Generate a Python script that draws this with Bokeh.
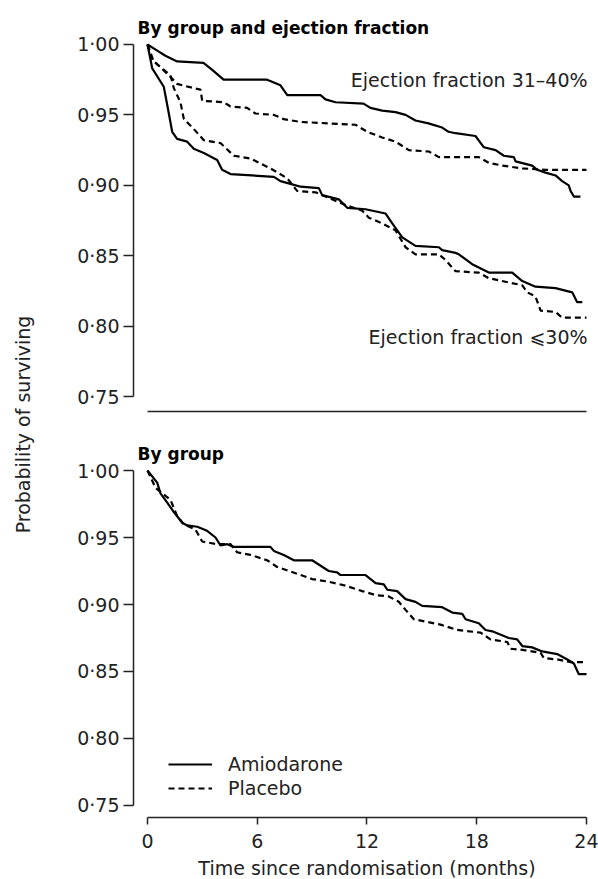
import math
from bokeh.plotting import figure
from bokeh.layouts import row, column
from bokeh.models import (FixedTicker, Label, Legend, LegendItem, Title, Range1d)
from bokeh.embed import file_html
from bokeh.resources import INLINE

# ---------------- data ----------------
y_ticks = [0.75, 0.80, 0.85, 0.90, 0.95, 1.00]
y_tick_labels = ["0·75", "0·80", "0·85", "0·90", "0·95", "1·00"]
x_ticks = [0, 6, 12, 18, 24]
x_tick_labels = ["0", "6", "12", "18", "24"]

# Top panel: by group and ejection fraction (months, survival)
amio_ef3140_t = [0, 0.49, 0.98, 1.62, 3.06, 3.54, 4.16, 6.54, 7.27, 7.64, 9.46, 9.73, 10.28, 11.81,
                 12.19, 12.83, 13.56, 14.11, 14.65, 15.36, 16.11, 16.46, 16.84, 17.93, 18.39, 19.03,
                 19.48, 20.03, 20.12, 21.03, 21.31, 21.76, 22.31, 22.67, 23.03, 23.13, 23.31, 23.67]
amio_ef3140_s = [1.0, 0.996, 0.992, 0.988, 0.987, 0.982, 0.975, 0.975, 0.971, 0.964, 0.964, 0.961, 0.959, 0.958,
                 0.955, 0.953, 0.952, 0.950, 0.946, 0.944, 0.941, 0.938, 0.937, 0.935, 0.927, 0.925,
                 0.921, 0.920, 0.917, 0.914, 0.911, 0.909, 0.907, 0.903, 0.900, 0.896, 0.892, 0.892]

plac_ef3140_t = [0, 0.26, 0.44, 1.26, 1.62, 2.53, 2.90, 2.99, 4.17, 4.54, 5.45, 5.90, 6.91, 7.45, 8.37,
                 11.37, 12.01, 12.83, 13.56, 14.29, 15.38, 15.93, 18.11, 18.66, 19.39, 20.49, 21.76, 24.0]
plac_ef3140_s = [1.0, 0.989, 0.987, 0.977, 0.972, 0.969, 0.968, 0.960, 0.959, 0.956, 0.955, 0.951, 0.950, 0.947, 0.945,
                 0.943, 0.938, 0.934, 0.931, 0.925, 0.924, 0.920, 0.920, 0.916, 0.914, 0.912, 0.911, 0.911]

amio_ef30_t = [0, 0.26, 0.89, 1.08, 1.35, 1.62, 2.17, 2.53, 3.08, 3.81, 4.08, 4.54, 6.91, 7.27, 7.82, 8.37,
               9.37, 9.55, 10.46, 10.92, 11.92, 13.01, 13.38, 13.93, 14.65, 15.93, 16.11, 16.84, 17.02,
               17.75, 18.66, 19.94, 20.49, 21.21, 22.31, 23.22, 23.49, 23.77]
amio_ef30_s = [1.0, 0.983, 0.970, 0.957, 0.938, 0.933, 0.931, 0.926, 0.923, 0.918, 0.911, 0.908, 0.906, 0.903, 0.901, 0.899,
               0.898, 0.893, 0.890, 0.884, 0.883, 0.880, 0.873, 0.863, 0.857, 0.856, 0.854, 0.852, 0.851,
               0.844, 0.838, 0.838, 0.832, 0.828, 0.827, 0.824, 0.817, 0.817]

plac_ef30_t = [0, 0.34, 1.26, 1.44, 1.80, 1.99, 2.53, 3.08, 3.99, 4.72, 5.63, 6.72, 7.64, 8.18, 9.19, 9.73,
               10.83, 11.74, 12.10, 12.83, 13.56, 14.11, 14.65, 15.93, 16.29, 16.84, 18.11, 18.66, 19.76,
               20.49, 20.76, 21.21, 21.49, 22.31, 22.67, 24.0]
plac_ef30_s = [1.0, 0.988, 0.978, 0.969, 0.959, 0.947, 0.940, 0.932, 0.930, 0.921, 0.919, 0.912, 0.905, 0.896, 0.895, 0.892,
               0.886, 0.882, 0.877, 0.873, 0.868, 0.856, 0.851, 0.851, 0.847, 0.839, 0.838, 0.834, 0.831,
               0.829, 0.824, 0.821, 0.811, 0.810, 0.806, 0.806]

# Bottom panel: by group
amio_t = [0, 0.53, 0.71, 1.08, 1.44, 1.90, 2.17, 2.72, 3.26, 3.72, 3.99, 4.36, 4.72, 6.72, 6.91, 7.45, 8.00,
          9.00, 9.91, 10.37, 10.55, 11.92, 12.47, 12.92, 13.11, 13.65, 14.11, 14.65, 15.02, 16.11, 16.66,
          17.21, 17.39, 18.11, 18.48, 18.85, 19.75, 20.21, 20.49, 21.03, 21.58, 22.40, 22.95, 23.31, 23.58, 24.0]
amio_s = [1.0, 0.991, 0.983, 0.976, 0.969, 0.961, 0.959, 0.958, 0.955, 0.950, 0.944, 0.945, 0.943, 0.943, 0.940, 0.937, 0.933,
          0.933, 0.925, 0.924, 0.922, 0.922, 0.916, 0.915, 0.911, 0.910, 0.904, 0.902, 0.899, 0.898, 0.894,
          0.893, 0.889, 0.886, 0.881, 0.880, 0.875, 0.874, 0.869, 0.868, 0.865, 0.863, 0.859, 0.856, 0.848, 0.848]

plac_t = [0, 0.44, 1.26, 1.62, 1.98, 2.62, 2.99, 3.81, 4.54, 4.90, 5.63, 6.54, 7.09, 8.37, 9.00, 9.91,
          10.83, 11.74, 12.47, 13.19, 13.74, 14.11, 14.56, 16.02, 16.93, 18.21, 18.75, 19.67, 19.85,
          20.58, 21.49, 21.67, 22.40, 23.13, 24.0]
plac_s = [1.0, 0.987, 0.978, 0.966, 0.960, 0.956, 0.947, 0.945, 0.945, 0.939, 0.937, 0.933, 0.928, 0.922, 0.919, 0.917,
          0.914, 0.910, 0.907, 0.906, 0.902, 0.896, 0.889, 0.885, 0.881, 0.879, 0.874, 0.872, 0.867,
          0.866, 0.864, 0.860, 0.859, 0.857, 0.857]

# ---------------- styling ----------------
FONT = "DejaVu Sans"
FS = "19px"
AX = "#222222"
DASH = "6 4"
LW = 2.2

def style_axes(p, show_x_ticks):
    p.grid.visible = False
    p.outline_line_color = None
    p.background_fill_color = "white"
    p.border_fill_color = "white"
    ya = p.yaxis[0]
    ya.ticker = FixedTicker(ticks=y_ticks)
    ya.major_label_overrides = {v: s for v, s in zip(y_ticks, y_tick_labels)}
    ya.bounds = (0.75, 1.0)
    ya.axis_line_color = AX
    ya.axis_line_width = 1.5
    ya.major_tick_line_color = AX
    ya.major_tick_line_width = 1.5
    ya.major_tick_out = 10
    ya.major_tick_in = 0
    ya.minor_tick_line_color = None
    ya.major_label_standoff = 4
    ya.major_label_text_font = FONT
    ya.major_label_text_font_size = FS
    ya.major_label_text_color = "#222222"
    xa = p.xaxis[0]
    xa.bounds = (0, 24)
    xa.axis_line_color = AX
    xa.axis_line_width = 1.5
    xa.minor_tick_line_color = None
    if show_x_ticks:
        xa.ticker = FixedTicker(ticks=x_ticks)
        xa.major_label_overrides = {v: s for v, s in zip(x_ticks, x_tick_labels)}
        xa.major_tick_line_color = AX
        xa.major_tick_line_width = 1.5
        xa.major_tick_out = 7
        xa.major_tick_in = 0
        xa.major_label_standoff = 9
        xa.major_label_text_font = FONT
        xa.major_label_text_font_size = FS
        xa.major_label_text_color = "#222222"
    else:
        xa.ticker = FixedTicker(ticks=[])
        xa.major_tick_line_color = None
        xa.major_label_text_font_size = "0px"
        xa.major_label_standoff = 0
        xa.major_tick_out = 0


def add_title(p, text):
    t = Title(text=text, align="left", text_font=FONT, text_font_size="17px",
              text_font_style="bold", text_color="black", offset=4, standoff=6)
    p.add_layout(t, "above")


X_START, X_END = -0.765, 24.219

# ---------------- top panel ----------------
top = figure(width=558, height=420, output_backend="svg", toolbar_location=None,
             x_range=Range1d(X_START, X_END), y_range=Range1d(0.73935, 1.00284),
             min_border_left=93, min_border_right=8, min_border_top=40, min_border_bottom=9)
add_title(top, "By group and ejection fraction")
top.line(amio_ef3140_t, amio_ef3140_s, line_color="black", line_width=LW)
top.line(plac_ef3140_t, plac_ef3140_s, line_color="black", line_width=LW, line_dash=DASH)
top.line(amio_ef30_t, amio_ef30_s, line_color="black", line_width=LW)
top.line(plac_ef30_t, plac_ef30_s, line_color="black", line_width=LW, line_dash=DASH)
style_axes(top, False)
top.add_layout(Label(x=24.06, y=0.9748, text="Ejection fraction 31–40%", text_align="right",
                     text_baseline="middle", text_font=FONT, text_font_size=FS, text_color="#222222"))
top.add_layout(Label(x=24.06, y=0.7926, text="Ejection fraction ⩽30%", text_align="right",
                     text_baseline="middle", text_font=FONT, text_font_size=FS, text_color="#222222"))

# ---------------- bottom panel ----------------
bot = figure(width=558, height=436, output_backend="svg", toolbar_location=None,
             x_range=Range1d(X_START, X_END), y_range=Range1d(0.74104, 1.00299),
             min_border_left=93, min_border_right=8, min_border_top=46, min_border_bottom=39)
add_title(bot, "By group")
r_a = bot.line(amio_t, amio_s, line_color="black", line_width=LW)
r_p = bot.line(plac_t, plac_s, line_color="black", line_width=LW, line_dash=DASH)
style_axes(bot, True)
legend = Legend(items=[LegendItem(label="Amiodarone", renderers=[r_a]),
                       LegendItem(label="Placebo", renderers=[r_p])],
                location=(35, 18), orientation="vertical",
                border_line_color=None, background_fill_alpha=0,
                padding=0, margin=0, spacing=2,
                glyph_width=44, glyph_height=20, label_height=20, label_standoff=16,
                label_text_font=FONT, label_text_font_size=FS, label_text_color="#222222")
bot.add_layout(legend, "center")

# ---------------- x-axis title strip (frame aligned with the panels above) ----------------
xl = figure(width=558, height=23, output_backend="svg", toolbar_location=None,
            x_range=Range1d(X_START, X_END), y_range=Range1d(0, 23),
            min_border=0, min_border_left=93, min_border_right=8, min_border_top=0, min_border_bottom=0)
xl.axis.visible = False
xl.grid.visible = False
xl.outline_line_color = None
xl.add_layout(Label(x=12, y=11.5, text="Time since randomisation (months)", text_align="center",
                    text_baseline="middle", text_font=FONT, text_font_size=FS, text_color="#222222"))

# ---------------- shared y label ----------------
yl = figure(width=40, height=879, output_backend="svg", toolbar_location=None,
            x_range=Range1d(0, 40), y_range=Range1d(0, 879),
            min_border=0, min_border_left=0, min_border_right=0, min_border_top=0, min_border_bottom=0)
yl.axis.visible = False
yl.grid.visible = False
yl.outline_line_color = None
yl.add_layout(Label(x=22, y=455, text="Probability of surviving", angle=math.pi / 2,
                    text_align="center", text_baseline="middle", text_font=FONT,
                    text_font_size=FS, text_color="#222222"))

layout = row(yl, column(top, bot, xl))
open("out.html", "w").write(file_html(layout, INLINE))
